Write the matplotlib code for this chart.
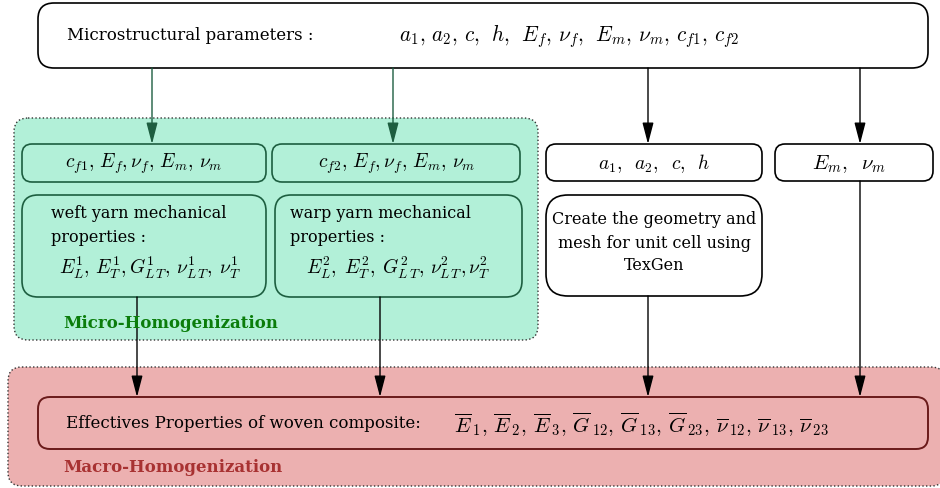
import matplotlib.pyplot as plt
from matplotlib.patches import FancyBboxPatch

plt.rcParams['mathtext.fontset'] = 'cm'
plt.rcParams['font.family'] = 'DejaVu Serif'

# texts of the diagram
top_label = "Microstructural parameters :"
top_params = r"$a_1,\, a_2,\, c,\;\, h,\;\, E_f,\, \nu_f,\;\, E_m,\, \nu_m,\, c_{f1},\, c_{f2}$"
weft_inputs = r"$c_{f1},\, E_f, \nu_f,\, E_m,\, \nu_m$"
warp_inputs = r"$c_{f2},\, E_f, \nu_f,\, E_m,\, \nu_m$"
weft_title = ["weft yarn mechanical", "properties :"]
warp_title = ["warp yarn mechanical", "properties :"]
weft_props = r"$E_L^1,\, E_T^1, G_{L\,T}^1,\, \nu_{L\,T}^1,\;\nu_T^1$"
warp_props = r"$E_L^2,\; E_T^2,\; G_{L\,T}^2,\, \nu_{L\,T}^2, \nu_T^2$"
geom_params = r"$a_1,\;\; a_2,\;\; c,\;\; h$"
matrix_params = r"$E_m,\;\; \nu_m$"
texgen_lines = ["Create the geometry and", "mesh for unit cell using", "TexGen"]
micro_label = "Micro-Homogenization"
macro_label = "Macro-Homogenization"
eff_label = "Effectives Properties of woven composite:"
eff_props = (r"$\overline{E}_{\,1},\, \overline{E}_{\,2},\, \overline{E}_{\,3},\, "
             r"\overline{G}_{\,12},\, \overline{G}_{\,13},\, \overline{G}_{\,23},\, "
             r"\overline{\nu}_{\,12},\, \overline{\nu}_{\,13},\, \overline{\nu}_{\,23}$")

GREEN_FILL = '#b2f0d8'
GREEN_EDGE = '#1d5e40'
RED_FILL = '#ecb0b0'
RED_EDGE = '#6a1a1a'

fig = plt.figure(figsize=(9.4, 4.88), dpi=100)
ax = fig.add_axes([0, 0, 1, 1])
ax.set_xlim(0, 940)
ax.set_ylim(488, 0)
ax.axis('off')


def box(x0, y0, x1, y1, r=12, fc='white', ec='black', lw=1.2, ls='-', z=2):
    p = FancyBboxPatch((x0, y0), x1 - x0, y1 - y0,
                       boxstyle=f'round,pad=0,rounding_size={r}',
                       fc=fc, ec=ec, lw=lw, ls=ls, zorder=z)
    ax.add_patch(p)


def arrow(x, y0, y1, color='black'):
    ax.annotate('', xy=(x, y1), xytext=(x, y0),
                arrowprops=dict(arrowstyle='-|>,head_length=1.3,head_width=0.34',
                                color=color, lw=1.0, shrinkA=0, shrinkB=0),
                zorder=5)


# background regions
box(14, 118, 538, 340, r=14, fc=GREEN_FILL, ec='#333333', lw=1.0, ls=':', z=0)
box(8, 367, 945, 486, r=14, fc=RED_FILL, ec='#333333', lw=1.0, ls=':', z=0)

# top box
box(38, 3, 928, 68, r=16)
ax.text(67, 35, top_label, fontsize=12, va='center', ha='left')
ax.text(399, 36, top_params, fontsize=15.3, va='center', ha='left')

# green boxes
box(22, 144, 266, 182, r=10, fc=GREEN_FILL, ec=GREEN_EDGE, z=3)
box(272, 144, 520, 182, r=10, fc=GREEN_FILL, ec=GREEN_EDGE, z=3)
ax.text(144, 164, weft_inputs, fontsize=14, ha='center', va='center', zorder=6)
ax.text(397, 164, warp_inputs, fontsize=14, ha='center', va='center', zorder=6)

box(22, 195, 266, 297, r=16, fc=GREEN_FILL, ec=GREEN_EDGE, z=3)
box(275, 195, 522, 297, r=16, fc=GREEN_FILL, ec=GREEN_EDGE, z=3)
for i, s in enumerate(weft_title):
    ax.text(51, 213 + 24 * i, s, fontsize=11.5, ha='left', va='center', zorder=6)
for i, s in enumerate(warp_title):
    ax.text(290, 213 + 24 * i, s, fontsize=11.5, ha='left', va='center', zorder=6)
ax.text(150, 268, weft_props, fontsize=14, ha='center', va='center', zorder=6)
ax.text(398, 268, warp_props, fontsize=14, ha='center', va='center', zorder=6)
ax.text(63, 323, micro_label, fontsize=12, fontweight='bold', color='#0b7d0b',
        ha='left', va='center', zorder=6)

# right column boxes
box(546, 144, 762, 181, r=10, z=3)
box(775, 144, 933, 181, r=10, z=3)
ax.text(654, 164, geom_params, fontsize=14, ha='center', va='center', zorder=6)
ax.text(849, 164, matrix_params, fontsize=15, ha='center', va='center', zorder=6)
box(546, 195, 762, 296, r=22, z=3)
for i, s in enumerate(texgen_lines):
    ax.text(654, 220 + 23 * i, s, fontsize=11.5, ha='center', va='center', zorder=6)

# bottom box
box(38, 397, 928, 449, r=12, fc=RED_FILL, ec=RED_EDGE, lw=1.4, z=3)
ax.text(66, 423, eff_label, fontsize=12, ha='left', va='center', zorder=6)
ax.text(454, 425, eff_props, fontsize=15, ha='left', va='center', zorder=6)
ax.text(63, 468, macro_label, fontsize=12, fontweight='bold', color='#a83232',
        ha='left', va='center', zorder=6)

# connectors
arrow(152, 68, 144, color=GREEN_EDGE)
arrow(393, 68, 144, color=GREEN_EDGE)
arrow(648, 68, 144)
arrow(860, 68, 144)
arrow(137, 297, 397)
arrow(380, 297, 397)
arrow(648, 296, 397)
arrow(860, 181, 397)

fig.savefig('out.png', dpi=100)
